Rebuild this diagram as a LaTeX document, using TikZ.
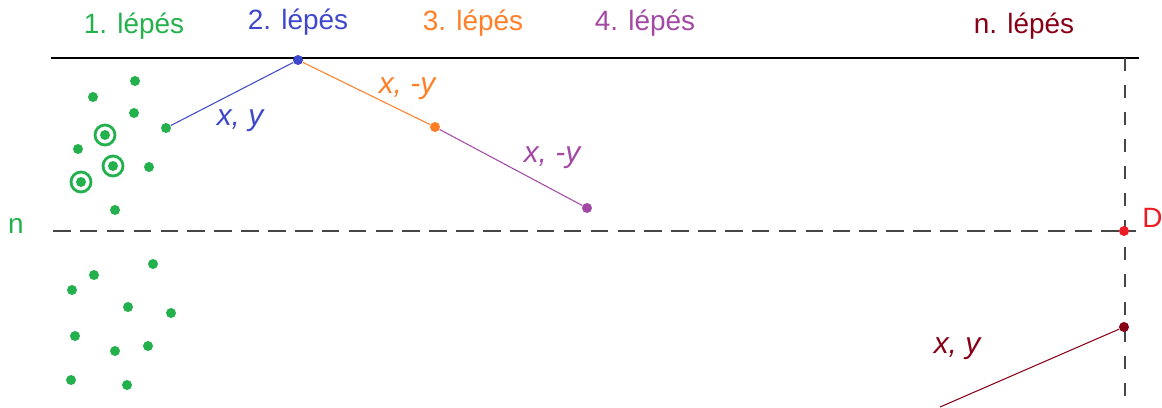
\documentclass[tikz,border=0pt]{standalone}
\usepackage{fontspec}
\setmainfont{Liberation Sans}
\definecolor{pgreen}{RGB}{34,177,76}
\definecolor{pblue}{RGB}{63,72,204}
\definecolor{porange}{RGB}{255,127,39}
\definecolor{ppurple}{RGB}{163,73,164}
\definecolor{pdred}{RGB}{136,0,21}
\definecolor{pred}{RGB}{237,28,36}
\definecolor{pgray}{RGB}{70,70,70}
\begin{document}
\begin{tikzpicture}[x=0.02cm,y=-0.02cm,
  dot/.style={circle,fill=#1,inner sep=0pt,minimum size=0.2cm},
  gdot/.style={dot=pgreen},
  ring/.style={circle,draw=pgreen,line width=1.6pt,fill=white,inner sep=0pt,minimum size=0.4cm,
    path picture={\fill[pgreen] (path picture bounding box.center) circle (0.1cm);}},
  steplbl/.style={text=#1,font=\fontsize{15.9}{18}\selectfont,anchor=base,inner sep=0pt},
  vlbl/.style={text=#1,font=\fontsize{17}{20}\selectfont\itshape,anchor=base,inner sep=0pt},
  seg/.style={draw=#1,line width=0.6pt},
  hguide/.style={draw=pgray,line width=0.85pt,dash pattern=on 10pt off 5.3pt},
  vguide/.style={draw=pgray,line width=0.65pt,dash pattern=on 7.4pt off 8pt}]
\useasboundingbox (0,0) rectangle (1162,407);
% frame lines
\coordinate (tl) at (51,58);
\coordinate (tr) at (1139,58);
\coordinate (vt) at (1125,58);
\coordinate (vb) at (1125,407);
\coordinate (hl) at (53,231);
\coordinate (hr) at (1136,231);
\draw[line width=0.85pt,black] (tl) -- (tr);
\draw[hguide] (hl) -- (hr);
\draw[vguide] (vt) -- (vb);
% step labels
\node[steplbl=pgreen] (l1) at (134,33) {1. lépés};
\node[steplbl=pblue] (l2) at (298,29) {2. lépés};
\node[steplbl=porange] (l3) at (473,30) {3. lépés};
\node[steplbl=ppurple] (l4) at (645,30) {4. lépés};
\node[steplbl=pdred] (ln) at (1024,33) {n. lépés};
\node[steplbl=pgreen] (nlbl) at (16,233) {n};
\node[steplbl=pred,anchor=base west] (dlbl) at (1142,227) {D};
% green dots, upper
\node[gdot] (g1) at (135,81) {};
\node[gdot] (g2) at (93,97) {};
\node[gdot] (g3) at (134,113) {};
\node[gdot] (g4) at (78,149) {};
\node[gdot] (g5) at (149,167) {};
\node[gdot] (g6) at (115,210) {};
\node[ring] (r1) at (105,135) {};
\node[ring] (r2) at (113,166) {};
\node[ring] (r3) at (81,182) {};
% green dots, lower
\node[gdot] (h1) at (153,264) {};
\node[gdot] (h2) at (94,275) {};
\node[gdot] (h3) at (72,290) {};
\node[gdot] (h4) at (128,307) {};
\node[gdot] (h5) at (171,313) {};
\node[gdot] (h6) at (75,336) {};
\node[gdot] (h7) at (115,351) {};
\node[gdot] (h8) at (148,346) {};
\node[gdot] (h9) at (71,380) {};
\node[gdot] (h10) at (127,385) {};
% path points
\node[gdot] (p1) at (166,128) {};
\node[dot=pblue] (p2) at (298,60) {};
\node[dot=porange] (p3) at (435,127) {};
\node[dot=ppurple] (p4) at (587,208) {};
\node[dot=pred] (pd) at (1124,231) {};
\node[dot=pdred] (pn) at (1124,327) {};
\coordinate (pnstart) at (940,407);
% segments
\draw[seg=pblue] (p1) -- (p2);
\draw[seg=porange] (p2) -- (p3);
\draw[seg=ppurple] (p3) -- (p4);
\draw[seg=pdred] (pnstart) -- (pn);
% segment labels
\node[vlbl=pblue] (s1) at (240,125) {x, y};
\node[vlbl=porange] (s2) at (407,93) {x, -y};
\node[vlbl=ppurple] (s3) at (552,162) {x, -y};
\node[vlbl=pdred] (s4) at (957,353) {x, y};
\end{tikzpicture}
\end{document}
